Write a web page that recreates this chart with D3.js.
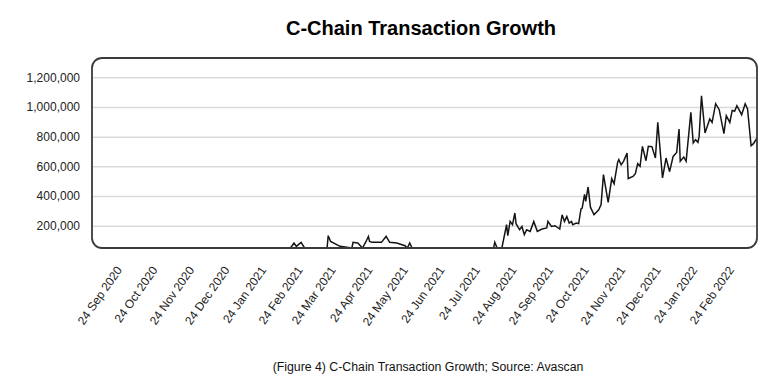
<!DOCTYPE html>
<html>
<head>
<meta charset="utf-8">
<script src="https://cdn.jsdelivr.net/npm/d3@7"></script>
<style>
  html, body { margin: 0; padding: 0; background: #fff; }
  svg { display: block; font-family: "Liberation Sans", Arial, Helvetica, sans-serif; }
</style>
</head>
<body>
<svg id="chart" width="780" height="380"></svg>
<script>
// ---- data ----
const dates = [
  "2020-09-01","2021-02-16","2021-02-19","2021-02-21","2021-02-25","2021-02-28",
  "2021-03-19","2021-03-20","2021-03-22","2021-03-30","2021-04-09","2021-04-10",
  "2021-04-14","2021-04-18","2021-04-21","2021-04-23","2021-04-24","2021-04-26",
  "2021-05-04","2021-05-08","2021-05-11","2021-05-17","2021-05-24","2021-05-26",
  "2021-05-28","2021-05-30","2021-08-07","2021-08-08","2021-08-10","2021-08-14",
  "2021-08-18","2021-08-19","2021-08-21","2021-08-23","2021-08-25","2021-08-26",
  "2021-08-29","2021-08-31","2021-09-02","2021-09-04","2021-09-07","2021-09-10",
  "2021-09-13","2021-09-17","2021-09-21","2021-09-22","2021-09-25","2021-09-28",
  "2021-10-02","2021-10-04","2021-10-06","2021-10-08","2021-10-10","2021-10-12",
  "2021-10-13","2021-10-16","2021-10-18","2021-10-20","2021-10-21","2021-10-23",
  "2021-10-24","2021-10-26","2021-10-28","2021-10-31","2021-11-04","2021-11-06",
  "2021-11-08","2021-11-12","2021-11-15","2021-11-17","2021-11-20","2021-11-21",
  "2021-11-23","2021-11-25","2021-11-28","2021-11-29","2021-12-03","2021-12-05",
  "2021-12-07","2021-12-09","2021-12-11","2021-12-14","2021-12-16","2021-12-19",
  "2021-12-22","2021-12-24","2021-12-28","2021-12-31","2022-01-03","2022-01-06",
  "2022-01-09","2022-01-11","2022-01-12","2022-01-15","2022-01-17","2022-01-21",
  "2022-01-23","2022-01-25","2022-01-27","2022-01-28","2022-01-30","2022-02-02",
  "2022-02-06","2022-02-08","2022-02-11","2022-02-14","2022-02-18","2022-02-20",
  "2022-02-23","2022-02-25","2022-02-27","2022-03-01","2022-03-05","2022-03-08",
  "2022-03-10","2022-03-13","2022-03-15","2022-03-18"
];
const transactions = [
  50000,50000,84000,61000,88000,50000,
  50000,133000,94000,61000,50000,88000,
  84000,50000,94000,128000,94000,88000,
  88000,128000,88000,84000,65000,50000,
  84000,50000,50000,88000,50000,50000,
  207000,133000,229000,207000,286000,214000,
  173000,195000,140000,173000,162000,229000,
  162000,178000,185000,229000,195000,200000,
  178000,274000,229000,263000,218000,229000,
  207000,218000,214000,313000,319000,412000,
  364000,461000,325000,274000,308000,342000,
  544000,357000,517000,483000,627000,645000,
  611000,634000,689000,518000,532000,551000,
  618000,600000,735000,638000,735000,733000,
  656000,896000,522000,656000,564000,667000,
  694000,852000,634000,663000,634000,964000,
  758000,780000,762000,802000,1076000,825000,
  919000,896000,1022000,982000,820000,942000,
  896000,977000,971000,1009000,948000,1022000,
  987000,739000,753000,791000
];
const yTickValues = [200000, 400000, 600000, 800000, 1000000, 1200000];
const xTickDates = [
  "2020-09-24","2020-10-24","2020-11-24","2020-12-24","2021-01-24","2021-02-24",
  "2021-03-24","2021-04-24","2021-05-24","2021-06-24","2021-07-24","2021-08-24",
  "2021-09-24","2021-10-24","2021-11-24","2021-12-24","2022-01-24","2022-02-24"
];
const domainDates = ["2020-09-01", "2022-03-18"];
const yDomain = [50000, 1330000];
const titleText = "C-Chain Transaction Growth";
const captionText = "(Figure 4) C-Chain Transaction Growth; Source: Avascan";

// ---- layout ----
const parse = d3.utcParse("%Y-%m-%d");
const fmt = d3.utcFormat("%d %b %Y");
const plot = { left: 92, top: 58, right: 757, bottom: 248 };

const svg = d3.select("#chart");

const x = d3.scaleUtc()
  .domain(domainDates.map(parse))
  .range([plot.left, plot.right]);
const y = d3.scaleLinear()
  .domain(yDomain)
  .range([plot.bottom, plot.top])
  .clamp(true);

const data = dates.map((d, i) => ({ date: parse(d), value: transactions[i] }));

// title
svg.append("text")
  .attr("x", 421).attr("y", 35)
  .attr("text-anchor", "middle")
  .attr("font-size", 20).attr("font-weight", "bold")
  .attr("fill", "#000")
  .text(titleText);

// clip
svg.append("defs").append("clipPath").attr("id", "plotclip")
  .append("rect")
  .attr("x", plot.left).attr("y", plot.top)
  .attr("width", plot.right - plot.left).attr("height", plot.bottom - plot.top)
  .attr("rx", 10).attr("ry", 10);

// gridlines + y labels via axis
const yAxis = d3.axisLeft(y)
  .tickValues(yTickValues)
  .tickSize(-(plot.right - plot.left))
  .tickPadding(12)
  .tickFormat(d3.format(","));
const gy = svg.append("g")
  .attr("transform", `translate(${plot.left},0)`)
  .call(yAxis);
gy.select(".domain").remove();
gy.selectAll(".tick line").attr("stroke", "#d9d9d9").attr("stroke-width", 1.5);
gy.selectAll(".tick text")
  .attr("font-size", 12)
  .attr("fill", "#222")
  .attr("font-family", "'Liberation Sans', Arial, sans-serif");

// line
const line = d3.line().x(d => x(d.date)).y(d => y(d.value));
svg.append("path")
  .datum(data)
  .attr("clip-path", "url(#plotclip)")
  .attr("fill", "none")
  .attr("stroke", "#151515")
  .attr("stroke-width", 1.5)
  .attr("stroke-linejoin", "miter")
  .attr("d", line);

// frame
svg.append("rect")
  .attr("x", plot.left).attr("y", plot.top)
  .attr("width", plot.right - plot.left).attr("height", plot.bottom - plot.top)
  .attr("rx", 10).attr("ry", 10)
  .attr("fill", "none")
  .attr("stroke", "#3a3a3a")
  .attr("stroke-width", 1.8);

// x axis labels
const xAxis = d3.axisBottom(x)
  .tickValues(xTickDates.map(parse))
  .tickSize(0)
  .tickFormat(fmt);
const gx = svg.append("g")
  .attr("transform", `translate(0,${plot.bottom})`)
  .call(xAxis);
gx.select(".domain").remove();
gx.selectAll(".tick text")
  .attr("font-size", 12)
  .attr("fill", "#222")
  .attr("font-family", "'Liberation Sans', Arial, sans-serif")
  .attr("text-anchor", "end")
  .attr("x", 0).attr("y", 0).attr("dy", 0)
  .attr("transform", "translate(3,22) rotate(-55)");

// caption
svg.append("text")
  .attr("x", 428).attr("y", 371)
  .attr("text-anchor", "middle")
  .attr("font-size", 12.3)
  .attr("fill", "#111")
  .text(captionText);
</script>
</body>
</html>
